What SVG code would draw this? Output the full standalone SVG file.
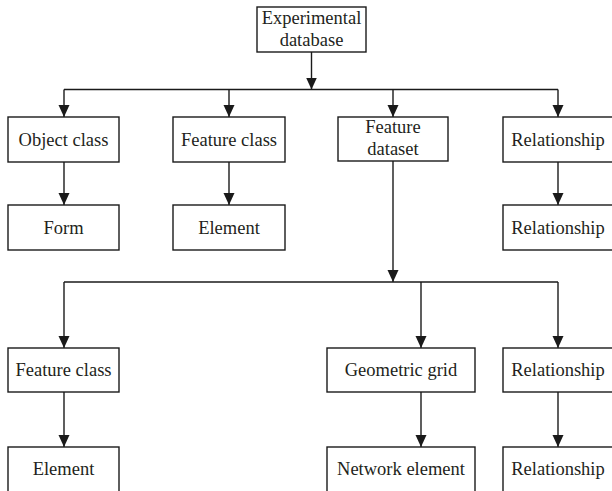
<svg xmlns="http://www.w3.org/2000/svg" width="612" height="491" viewBox="0 0 612 491">
  <defs>
    <marker id="arrow" markerUnits="userSpaceOnUse" markerWidth="12" markerHeight="12" refX="12" refY="5.5" orient="auto">
      <path d="M0,0 L12,5.5 L0,11 z" fill="#1a1a1a"/>
    </marker>
    <style>
      .box { fill: #ffffff; stroke: #1a1a1a; stroke-width: 1.4; }
      .lbl { font-family: "Liberation Serif", "Times New Roman", serif; font-size: 18.5px; fill: #231f20; text-anchor: middle; }
      .wire { fill: none; stroke: #1a1a1a; stroke-width: 1.4; }
      .arr { fill: none; stroke: #1a1a1a; stroke-width: 1.4; marker-end: url(#arrow); }
    </style>
  </defs>
  <rect width="612" height="491" fill="#ffffff"/>

  <g id="connectors">
    <!-- root to first tier -->
    <line class="arr" x1="311.5" y1="52" x2="311.5" y2="89.5"/>
    <line class="wire" x1="64" y1="89.5" x2="558" y2="89.5"/>
    <line class="arr" x1="64" y1="89.5" x2="64" y2="117"/>
    <line class="arr" x1="229" y1="89.5" x2="229" y2="117"/>
    <line class="arr" x1="393" y1="89.5" x2="393" y2="117"/>
    <line class="arr" x1="558" y1="89.5" x2="558" y2="117"/>
    <!-- first tier to second tier -->
    <line class="arr" x1="64" y1="162" x2="64" y2="205"/>
    <line class="arr" x1="229" y1="162" x2="229" y2="205"/>
    <line class="arr" x1="558" y1="162" x2="558" y2="205"/>
    <!-- feature dataset branch -->
    <line class="arr" x1="393" y1="161" x2="393" y2="282"/>
    <line class="wire" x1="64" y1="282" x2="558" y2="282"/>
    <line class="arr" x1="64" y1="282" x2="64" y2="348"/>
    <line class="arr" x1="421" y1="282" x2="421" y2="348"/>
    <line class="arr" x1="558" y1="282" x2="558" y2="348"/>
    <!-- third tier to fourth tier -->
    <line class="arr" x1="64" y1="392" x2="64" y2="447"/>
    <line class="arr" x1="421" y1="392" x2="421" y2="447"/>
    <line class="arr" x1="558" y1="392" x2="558" y2="447"/>
  </g>

  <g id="experimental-database">
    <rect class="box" x="257" y="7" width="109" height="45"/>
    <text class="lbl" x="311.5" y="24">Experimental</text>
    <text class="lbl" x="311.5" y="46">database</text>
  </g>

  <g id="object-class">
    <rect class="box" x="8" y="117" width="111" height="45"/>
    <text class="lbl" x="63.5" y="145.5">Object class</text>
  </g>
  <g id="feature-class-1">
    <rect class="box" x="173" y="117" width="112" height="45"/>
    <text class="lbl" x="229" y="145.5">Feature class</text>
  </g>
  <g id="feature-dataset">
    <rect class="box" x="338" y="117" width="110" height="44"/>
    <text class="lbl" x="393" y="133">Feature</text>
    <text class="lbl" x="393" y="155">dataset</text>
  </g>
  <g id="relationship-1">
    <rect class="box" x="503" y="117" width="111" height="45"/>
    <text class="lbl" x="558" y="145.5">Relationship</text>
  </g>

  <g id="form">
    <rect class="box" x="8" y="205" width="111" height="45"/>
    <text class="lbl" x="63.5" y="233.5">Form</text>
  </g>
  <g id="element-1">
    <rect class="box" x="173" y="205" width="112" height="45"/>
    <text class="lbl" x="229" y="233.5">Element</text>
  </g>
  <g id="relationship-2">
    <rect class="box" x="503" y="205" width="111" height="45"/>
    <text class="lbl" x="558" y="233.5">Relationship</text>
  </g>

  <g id="feature-class-2">
    <rect class="box" x="8" y="348" width="111" height="44"/>
    <text class="lbl" x="63.5" y="376">Feature class</text>
  </g>
  <g id="geometric-grid">
    <rect class="box" x="327" y="348" width="148" height="44"/>
    <text class="lbl" x="401" y="376">Geometric grid</text>
  </g>
  <g id="relationship-3">
    <rect class="box" x="503" y="348" width="111" height="44"/>
    <text class="lbl" x="558" y="376">Relationship</text>
  </g>

  <g id="element-2">
    <rect class="box" x="8" y="447" width="111" height="46"/>
    <text class="lbl" x="63.5" y="475">Element</text>
  </g>
  <g id="network-element">
    <rect class="box" x="327" y="447" width="148" height="46"/>
    <text class="lbl" x="401" y="475">Network element</text>
  </g>
  <g id="relationship-4">
    <rect class="box" x="503" y="447" width="111" height="46"/>
    <text class="lbl" x="558" y="475">Relationship</text>
  </g>
</svg>
